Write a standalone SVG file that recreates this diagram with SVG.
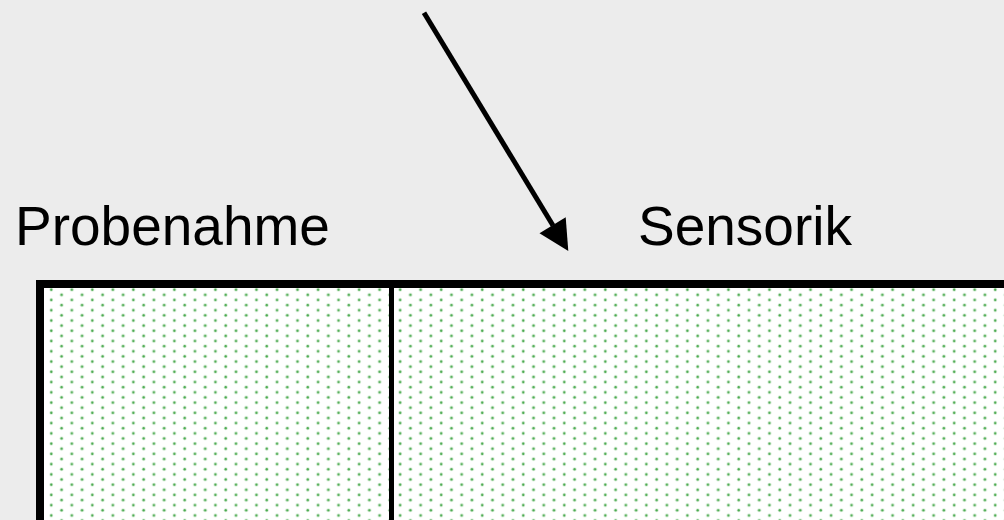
<svg xmlns="http://www.w3.org/2000/svg" width="1004" height="520" viewBox="0 0 1004 520">
  <style>
    .label { font-family: "Liberation Sans", Arial, sans-serif; font-size: 55px; fill: #000; }
    .frame { fill: url(#dots); stroke: none; }
    .edge { stroke: #000; fill: none; }
  </style>
  <defs>
    <!-- staggered green dot fill used inside both cells -->
    <pattern id="dots" patternUnits="userSpaceOnUse" x="46.17" y="287.135" width="20.52" height="10.26">
      <rect width="20.52" height="10.26" fill="#ffffff"/>
      <circle cx="5.13" cy="2.565" r="1.9" fill="#cfe9cf"/>
      <circle cx="5.13" cy="2.565" r="1.1" fill="#4aaa4f"/>
      <circle cx="15.39" cy="7.695" r="1.9" fill="#cfe9cf"/>
      <circle cx="15.39" cy="7.695" r="1.1" fill="#4aaa4f"/>
    </pattern>
  </defs>

  <rect width="1004" height="520" fill="#ececec"/>

  <g id="probenahme">
    <rect class="frame" x="40" y="284" width="351.5" height="260"/>
    <text class="label" x="15" y="245">Probenahme</text>
  </g>

  <g id="sensorik">
    <rect class="frame" x="391.5" y="284" width="660" height="260"/>
    <text class="label" x="638" y="245">Sensorik</text>
  </g>

  <!-- outer frame and cell divider -->
  <g id="frame-lines">
    <rect class="edge" x="40" y="284" width="1010" height="300" stroke-width="8"/>
    <line class="edge" x1="391.5" y1="284" x2="391.5" y2="520" stroke-width="5"/>
  </g>

  <g id="connectors">
    <line class="edge" x1="424" y1="12.7" x2="553" y2="225.5" stroke-width="5"/>
    <polygon points="568.3,251 539.5,233.3 565.7,217.3" fill="#000"/>
  </g>
</svg>
